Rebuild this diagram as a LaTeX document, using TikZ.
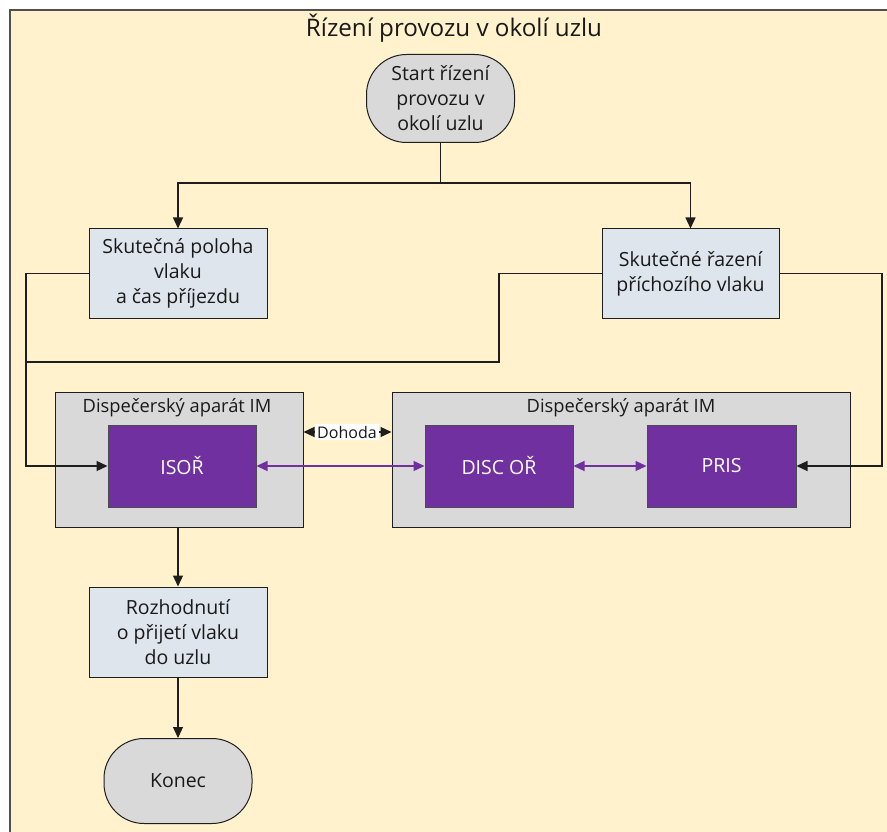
\documentclass[tikz,border=0pt]{standalone}
\usepackage{fontspec}
\setmainfont{Open Sans}
\usetikzlibrary{arrows.meta,calc}

\definecolor{pagebg}{RGB}{255,242,204}
\definecolor{framecol}{RGB}{80,80,80}
\definecolor{stepfill}{RGB}{222,229,236}
\definecolor{termfill}{RGB}{217,217,217}
\definecolor{groupfill}{RGB}{217,217,217}
\definecolor{sysfill}{RGB}{112,48,160}
\definecolor{linkcol}{RGB}{112,48,160}
\definecolor{linecol}{RGB}{30,30,30}

\tikzset{
  every node/.style={font=\fontsize{19.5}{25}\selectfont, text=black!90, align=center, inner sep=0pt},
  stepbox/.style={draw=linecol, line width=1pt, fill=stepfill, minimum width=178pt, minimum height=89pt},
  termbox/.style={draw=linecol, line width=1pt, fill=termfill, rounded corners=40pt, minimum width=148pt, minimum height=88pt},
  groupbox/.style={draw=linecol, line width=1pt, fill=groupfill, minimum height=135pt},
  grouptitle/.style={font=\fontsize{18.3}{22}\selectfont},
  sysbox/.style={draw=black!70, line width=1pt, fill=sysfill, text=white, minimum width=148pt, minimum height=82pt},
  flow/.style={draw=linecol, line width=1.2pt},
  flowarrow/.style={flow, -{Triangle[length=11pt,width=10pt]}},
  linkarrow/.style={draw=linkcol, line width=1.2pt, {Triangle[length=11pt,width=10pt]}-{Triangle[length=11pt,width=10pt]}},
}

\begin{document}
\begin{tikzpicture}[x=1pt,y=-1pt]
  \useasboundingbox (0,0) rectangle (887,832);
  \begin{scope}
    \clip (0,0) rectangle (887,832);
    \draw[framecol, line width=1.5pt, fill=pagebg] (10,10) rectangle (900,850);
  \end{scope}

  % title of the process
  \node (title) at (454,28) {\fontsize{24.2}{28}\selectfont Řízení provozu v okolí uzlu};

  % terminals and steps
  \node[termbox] (start) at (440.5,98.5) {Start řízení\\provozu v\\okolí uzlu};
  \node[stepbox] (pos) at (178,273.5) {Skutečná poloha\\vlaku\\a čas příjezdu};
  \node[stepbox, minimum width=177pt] (order) at (690.5,273.5) {Skutečné řazení\\příchozího vlaku};

  % dispatching groups
  \node[groupbox, minimum width=248pt] (grpL) at (179,459.5) {};
  \node[grouptitle] (grpLt) at (177,408) {Dispečerský aparát IM};
  \node[groupbox, minimum width=458pt] (grpR) at (621,459.5) {};
  \node[grouptitle] (grpRt) at (621,408) {Dispečerský aparát IM};

  \node[sysbox] (isor) at (182,466) {ISOŘ};
  \node[sysbox] (disc) at (499,466) {DISC OŘ};
  \node[sysbox, minimum width=149pt] (pris) at (721.5,466) {PRIS};

  \node[stepbox, minimum height=90pt] (dec) at (178,632) {Rozhodnutí\\o přijetí vlaku\\do uzlu};
  \node[termbox, minimum height=85pt] (end) at (178,781) {Konec};

  % branching from start
  \coordinate (split) at (440.5,183);
  \draw[flow] (start.south) -- (split);
  \draw[flowarrow] (split) -| (pos.north);
  \draw[flowarrow] (split) -| (order.north);

  % inputs to the dispatching systems
  \coordinate (lrail) at (26,273.5);
  \coordinate (lmerge) at (26,362);
  \coordinate (oturn) at (499,273.5);
  \coordinate (rrail) at (882,273.5);
  \draw[flowarrow] (pos.west) -- (lrail) |- (isor.west);
  \draw[flow] (order.west) -- (oturn) |- (lmerge);
  \draw[flowarrow] (order.east) -- (rrail) |- (pris.east);

  % agreement between the two dispatching groups
  \node[fill=white, inner xsep=2pt, inner ysep=2pt, font=\fontsize{16}{18}\selectfont] (agree) at (347,432) {Dohoda};
  \draw[flowarrow] (agree.west) -- (grpL.east |- agree.west);
  \draw[flowarrow] (agree.east) -- (grpR.west |- agree.east);

  % system links
  \draw[linkarrow] (isor.east) -- (disc.west);
  \draw[linkarrow] (disc.east) -- (pris.west);

  % decision and end
  \draw[flowarrow] (grpL.south -| dec.north) -- (dec.north);
  \draw[flowarrow] (dec.south) -- (end.north);
\end{tikzpicture}
\end{document}
